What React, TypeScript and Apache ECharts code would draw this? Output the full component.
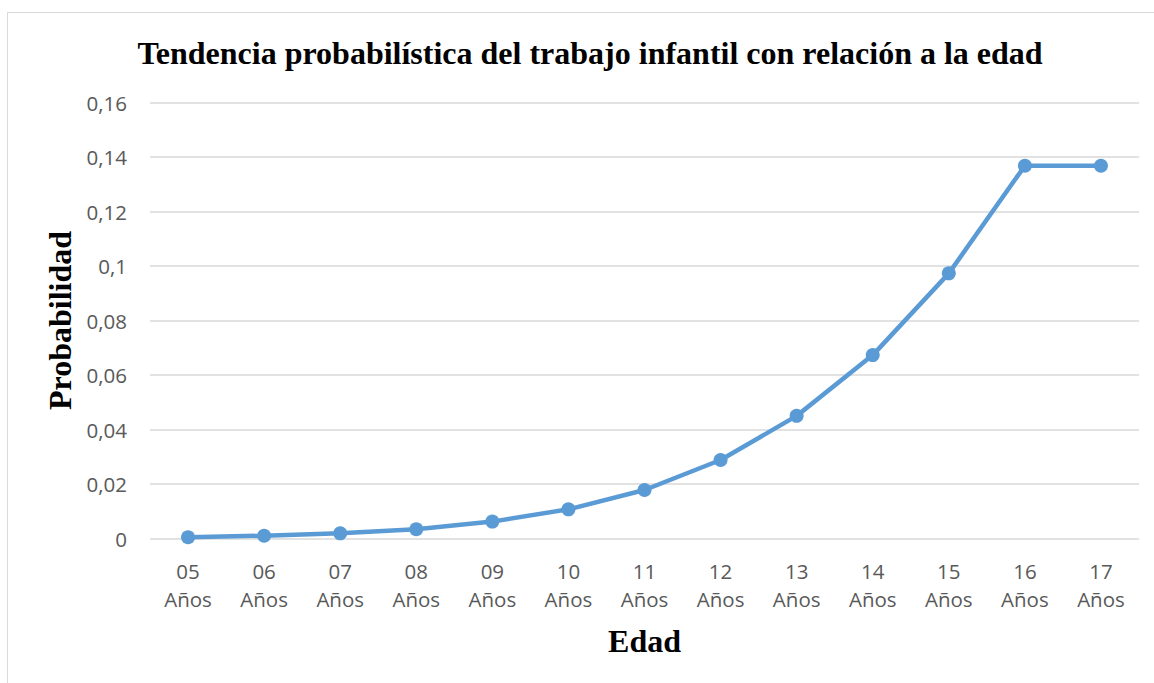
import React, { useEffect, useRef } from "react";
import * as echarts from "echarts";

const categories = ["05\nAños", "06\nAños", "07\nAños", "08\nAños", "09\nAños", "10\nAños", "11\nAños", "12\nAños", "13\nAños", "14\nAños", "15\nAños", "16\nAños", "17\nAños"];
const probabilidad = [0.00044, 0.00103, 0.0019, 0.0034, 0.0062, 0.0107, 0.0178, 0.0288, 0.045, 0.0673, 0.0973, 0.1368, 0.1368];
const titleText = "Tendencia probabilística del trabajo infantil con relación a la edad";
const yName = "Probabilidad";
const xName = "Edad";

export default function App() {
  const ref = useRef<HTMLDivElement>(null);
  useEffect(() => {
    document.body.style.margin = "0";
    const chart = echarts.init(ref.current!, null, { renderer: "svg" });
    chart.setOption({
      animation: false,
      backgroundColor: "#ffffff",
      title: {
        text: titleText,
        left: 585,
        textAlign: "center",
        top: 32,
        textStyle: { fontFamily: "Liberation Serif", fontWeight: "bold", fontSize: 32, color: "#000000" },
      },
      graphic: [
        {
          type: "rect",
          shape: { x: 7.5, y: 12.5, width: 1200, height: 720 },
          style: { fill: "none", stroke: "#d9d9d9", lineWidth: 1 },
          silent: true,
        },
      ],
      grid: { left: 150, right: 15, top: 102.5, bottom: 144.5, containLabel: false },
      xAxis: {
        type: "category",
        data: categories,
        boundaryGap: true,
        name: xName,
        nameLocation: "middle",
        nameGap: 86,
        nameTextStyle: { fontFamily: "Liberation Serif", fontWeight: "bold", fontSize: 32, color: "#000000", verticalAlign: "top" },
        axisLine: { show: false },
        axisTick: { show: false },
        axisLabel: { fontFamily: "Open Sans", fontSize: 20.5, color: "#595959", lineHeight: 28, margin: 18 },
      },
      yAxis: {
        type: "value",
        min: 0,
        max: 0.16,
        interval: 0.02,
        name: yName,
        nameLocation: "middle",
        nameGap: 72,
        nameTextStyle: { fontFamily: "Liberation Serif", fontWeight: "bold", fontSize: 32, color: "#000000" },
        axisLine: { show: false },
        axisTick: { show: false },
        splitLine: { lineStyle: { color: "#d9d9d9", width: 1.5 } },
        axisLabel: {
          fontFamily: "Open Sans",
          fontSize: 20.5,
          color: "#595959",
          margin: 23,
          formatter: (v: number) => String(Math.round(v * 100) / 100).replace(".", ","),
        },
      },
      series: [
        {
          type: "line",
          data: probabilidad,
          symbol: "circle",
          symbolSize: 14,
          lineStyle: { color: "#5B9BD5", width: 4.5 },
          itemStyle: { color: "#5B9BD5" },
        },
      ],
    });
    return () => chart.dispose();
  }, []);
  return <div ref={ref} style={{ width: 1154, height: 683 }} />;
}
